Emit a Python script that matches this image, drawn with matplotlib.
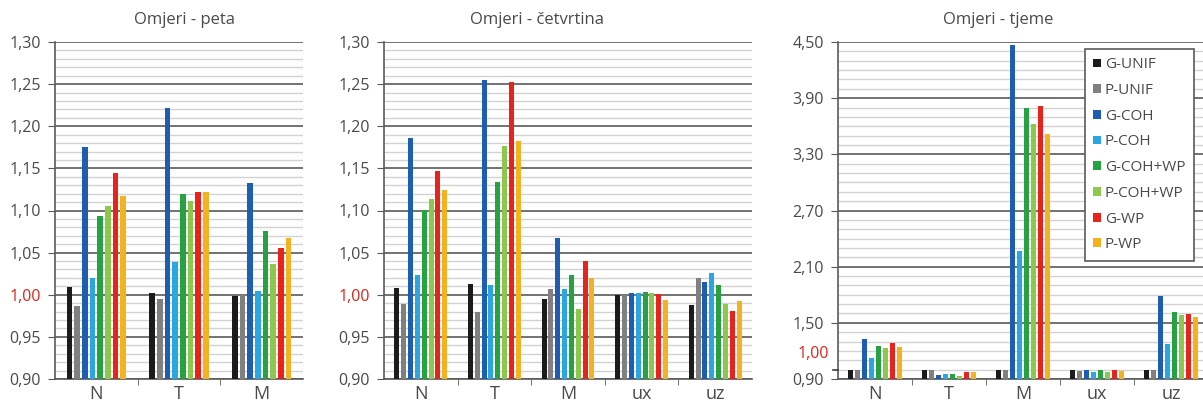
import matplotlib
matplotlib.use("Agg")
import matplotlib.pyplot as plt
import matplotlib.transforms as mtransforms
from matplotlib.patches import Patch
import numpy as np

plt.rcParams['font.family'] = ['Open Sans', 'DejaVu Sans']

series = ['G-UNIF', 'P-UNIF', 'G-COH', 'P-COH', 'G-COH+WP', 'P-COH+WP', 'G-WP', 'P-WP']
colors = ['#1b1b1b', '#808080', '#1f5db0', '#2aa6e2', '#27a243', '#8cc84e', '#e6231d', '#f4b120']

cats_peta = ['N', 'T', 'M']
cats_full = ['N', 'T', 'M', 'ux', 'uz']

# values per category, in series order
peta = [
    [1.009, 0.987, 1.175, 1.020, 1.093, 1.105, 1.144, 1.117],
    [1.002, 0.995, 1.222, 1.039, 1.120, 1.111, 1.122, 1.122],
    [0.999, 1.000, 1.133, 1.005, 1.076, 1.036, 1.055, 1.067],
]
cetvrtina = [
    [1.008, 0.989, 1.186, 1.023, 1.101, 1.114, 1.147, 1.124],
    [1.013, 0.979, 1.255, 1.011, 1.134, 1.176, 1.253, 1.182],
    [0.995, 1.007, 1.067, 1.007, 1.024, 0.983, 1.040, 1.020],
    [1.000, 1.000, 1.002, 1.002, 1.003, 1.002, 1.001, 0.994],
    [0.988, 1.020, 1.015, 1.026, 1.012, 0.989, 0.981, 0.993],
]
tjeme = [
    [1.00, 1.00, 1.33, 1.12, 1.25, 1.23, 1.28, 1.24],
    [1.00, 0.995, 0.94, 0.955, 0.955, 0.93, 0.97, 0.97],
    [1.00, 1.00, 4.47, 2.27, 3.79, 3.62, 3.82, 3.52],
    [1.00, 0.985, 1.00, 0.98, 1.00, 0.97, 1.00, 0.985],
    [1.00, 1.00, 1.79, 1.27, 1.62, 1.58, 1.59, 1.565],
]

W, H = 1203, 408
fig = plt.figure(figsize=(W / 100, H / 100), dpi=100)

label_color = '#4a4a4a'
step = 0.093
bw = 0.068


def draw(rect, cats, data, ymin, ymax, major, minor, title, title_x):
    ax = fig.add_axes(rect)
    data = np.array(data)
    x = np.arange(len(cats))
    for k in range(len(series)):
        ax.bar(x + (k - 3.5) * step, data[:, k] - ymin, width=bw, bottom=ymin,
               color=colors[k], zorder=3, label=series[k])
    ax.set_xlim(-0.5, len(cats) - 0.5)
    ax.set_ylim(ymin, ymax)
    ax.set_yticks(np.arange(ymin, ymax + major / 2, major))
    ax.set_yticks(np.arange(ymin, ymax + minor / 2, minor), minor=True)
    ax.grid(axis='y', which='minor', color='#d2d2d2', lw=1.0, zorder=0)
    ax.grid(axis='y', which='major', color='#5a5a5a', lw=1.2, zorder=1)
    ax.tick_params(axis='y', which='minor', length=0)
    ax.tick_params(axis='y', which='major', length=5, color='#5a5a5a',
                   labelsize=11.5, labelcolor=label_color, pad=5)
    ax.set_xticks(x)
    ax.set_xticklabels(cats)
    ax.set_xticks(x[:-1] + 0.5, minor=True)
    ax.tick_params(axis='x', which='major', length=0, labelsize=13,
                   labelcolor=label_color, pad=4)
    ax.tick_params(axis='x', which='minor', length=4, color='#5a5a5a')
    for s in ['top', 'right']:
        ax.spines[s].set_visible(False)
    for s in ['left', 'bottom']:
        ax.spines[s].set_color('#5a5a5a')
        ax.spines[s].set_linewidth(1.2)
    fig.text(title_x / W, 1 - 20 / H, title, ha='center', va='center',
             fontsize=12, color=label_color)
    return ax


bottom = 1 - 379 / H
height = (379 - 42) / H

ax1 = draw([55 / W, bottom, (303 - 55) / W, height], cats_peta, peta,
           0.90, 1.30, 0.05, 0.01, 'Omjeri - peta', 185)
ax2 = draw([384 / W, bottom, (752 - 384) / W, height], cats_full, cetvrtina,
           0.90, 1.30, 0.05, 0.01, 'Omjeri - četvrtina', 537)
ax3 = draw([838 / W, bottom, (1208 - 838) / W, height], cats_full, tjeme,
           0.90, 4.50, 0.60, 0.10, 'Omjeri - tjeme', 998)

for ax in (ax1, ax2):
    ax.set_yticklabels([f'{v:.2f}'.replace('.', ',') for v in ax.get_yticks()])
    for lab in ax.get_yticklabels():
        if lab.get_text() == '1,00':
            lab.set_color('#d8261c')

ax3.set_yticklabels([f'{v:.2f}'.replace('.', ',') for v in ax3.get_yticks()])
# marker for the 1,00 reference level
trans = mtransforms.blended_transform_factory(ax3.transAxes, ax3.transData)
ax3.plot([-0.014, 0.0], [1.0, 1.0], color='#3a3a3a', lw=1.2, transform=trans,
         clip_on=False, zorder=4)
ax3.text(-0.024, 1.165, '1,00', transform=trans, ha='right', va='center',
         fontsize=11.5, color='#d8261c')

handles = [Patch(facecolor=c, edgecolor='none') for c in colors]
leg = ax3.legend(handles, series, loc='upper left',
                 bbox_to_anchor=((1085 - 838) / (1208 - 838), 1 - 7 / 337),
                 frameon=True, fancybox=False, edgecolor='#5a5a5a', framealpha=1,
                 fontsize=11, handlelength=0.5, handleheight=0.5, handletextpad=0.25,
                 labelspacing=0.7, borderpad=0.55, borderaxespad=0,
                 labelcolor=label_color)
leg.get_frame().set_linewidth(1.2)
leg.set_zorder(10)

fig.savefig('out.png', dpi=100)
